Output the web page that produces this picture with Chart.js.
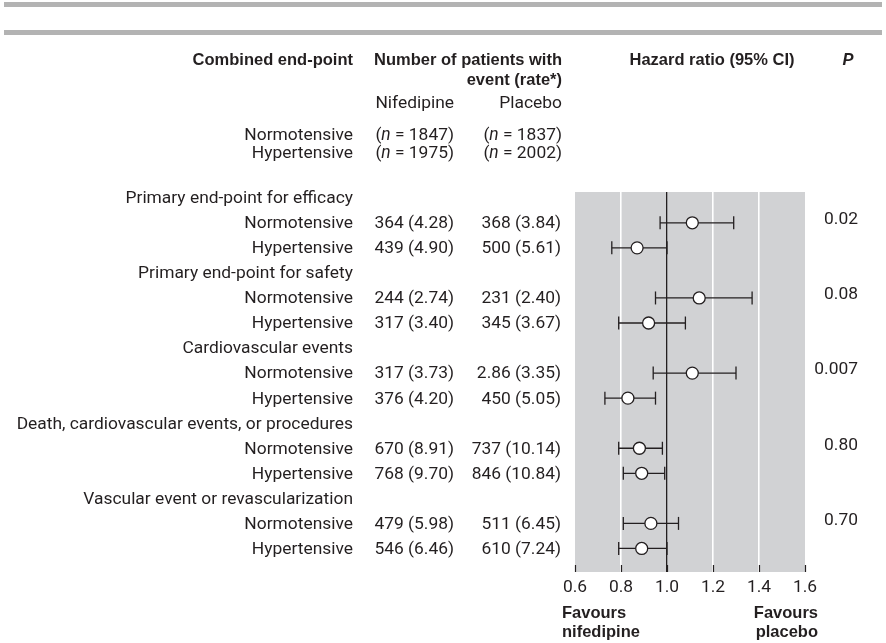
<!DOCTYPE html>
<html>
<head>
<meta charset="utf-8">
<script src="https://cdn.jsdelivr.net/npm/chart.js@4.4.1/dist/chart.umd.min.js"></script>
<style>
  html, body { margin: 0; padding: 0; background: #ffffff; }
  canvas { display: block; }
</style>
</head>
<body>
<canvas id="forest" width="886" height="643"></canvas>
<script>
// ---- table rows (index = position on the vertical scale, 0 at top) ----
const rowLabels = [
  'Primary end-point for efficacy', 'Normotensive', 'Hypertensive',
  'Primary end-point for safety', 'Normotensive', 'Hypertensive',
  'Cardiovascular events', 'Normotensive', 'Hypertensive',
  'Death, cardiovascular events, or procedures', 'Normotensive', 'Hypertensive',
  'Vascular event or revascularization', 'Normotensive', 'Hypertensive'
];
const nifedipineEvents = [null, '364 (4.28)', '439 (4.90)', null, '244 (2.74)', '317 (3.40)',
  null, '317 (3.73)', '376 (4.20)', null, '670 (8.91)', '768 (9.70)', null, '479 (5.98)', '546 (6.46)'];
const placeboEvents = [null, '368 (3.84)', '500 (5.61)', null, '231 (2.40)', '345 (3.67)',
  null, '2.86 (3.35)', '450 (5.05)', null, '737 (10.14)', '846 (10.84)', null, '511 (6.45)', '610 (7.24)'];

// ---- study groups ----
const groupNames = ['Normotensive', 'Hypertensive'];
const nNifedipine = [1847, 1975];
const nPlacebo = [1837, 2002];

// ---- hazard ratios with 95% CI, one per subgroup row ----
const hrRows    = [1, 2, 4, 5, 7, 8, 10, 11, 13, 14];
const hazard    = [1.11, 0.87, 1.14, 0.92, 1.11, 0.83, 0.88, 0.89, 0.93, 0.89];
const ciLower   = [0.97, 0.76, 0.95, 0.79, 0.94, 0.73, 0.79, 0.81, 0.81, 0.79];
const ciUpper   = [1.29, 1.00, 1.37, 1.08, 1.30, 0.95, 0.98, 0.99, 1.05, 1.00];

// ---- interaction P values (shown beside each end-point) ----
const pRows   = [1, 4, 7, 10, 13];
const pValues = ['0.02', '0.08', '0.007', '0.80', '0.70'];

// ---- x axis ticks ----
const xTicks = [0.6, 0.8, 1.0, 1.2, 1.4, 1.6];

const INK = '#231f20';
const PANEL = '#d1d2d4';
const BODY = '17.4px Roboto, "Liberation Sans", sans-serif';
const BODY_IT = 'italic 17.4px Roboto, "Liberation Sans", sans-serif';
const BOLD = 'bold 16.5px "Liberation Sans", Arial, sans-serif';
const BOLD_IT = 'italic bold 16.5px "Liberation Sans", Arial, sans-serif';

function text(ctx, s, x, y, font, align) {
  ctx.font = font;
  ctx.textAlign = align;
  ctx.fillText(s, x, y);
}

// "(n = 1847)" with an italic n, right-aligned at x
function sampleText(ctx, n, right, y) {
  const parts = [['(', BODY], ['n', BODY_IT], [' = ' + n + ')', BODY]];
  let total = 0;
  parts.forEach(p => { ctx.font = p[1]; total += ctx.measureText(p[0]).width; });
  let x = right - total;
  ctx.textAlign = 'left';
  parts.forEach(p => { ctx.font = p[1]; ctx.fillText(p[0], x, y); x += ctx.measureText(p[0]).width; });
}

const panelBackground = {
  id: 'panelBackground',
  beforeDraw(chart) {
    const { ctx, chartArea: a } = chart;
    ctx.save();
    ctx.fillStyle = PANEL;
    ctx.fillRect(a.left, a.top, a.right - a.left, a.bottom - a.top);
    ctx.restore();
  }
};

const tableText = {
  id: 'tableText',
  afterDraw(chart) {
    const { ctx, chartArea: a } = chart;
    const xs = chart.scales.x, ys = chart.scales.y;
    ctx.save();

    // inward tick marks along the bottom of the panel
    ctx.strokeStyle = INK;
    ctx.lineWidth = 1.2;
    xs.ticks.forEach(t => {
      const px = Math.round(xs.getPixelForValue(t.value)) + 0.5;
      ctx.beginPath();
      ctx.moveTo(px, a.bottom - 7);
      ctx.lineTo(px, a.bottom);
      ctx.stroke();
    });

    // double rule at the top
    ctx.fillStyle = '#b3b3b3';
    ctx.fillRect(4, 2, 878, 5);
    ctx.fillRect(4, 30, 878, 5);

    ctx.fillStyle = INK;
    ctx.textBaseline = 'middle';

    // column headings
    text(ctx, 'Combined end-point', 353, 60, BOLD, 'right');
    text(ctx, 'Number of patients with', 562, 60, BOLD, 'right');
    text(ctx, 'event (rate*)', 562, 80, BOLD, 'right');
    text(ctx, 'Hazard ratio (95% CI)', 712, 60, BOLD, 'center');
    text(ctx, 'P', 848, 60, BOLD_IT, 'center');
    text(ctx, 'Nifedipine', 454, 104, BODY, 'right');
    text(ctx, 'Placebo', 562, 104, BODY, 'right');

    // group sizes
    groupNames.forEach((g, i) => {
      const y = 136 + i * 18;
      text(ctx, g, 353, y, BODY, 'right');
      sampleText(ctx, nNifedipine[i], 454, y);
      sampleText(ctx, nPlacebo[i], 562, y);
    });

    // table body, aligned to the same rows as the markers
    rowLabels.forEach((lab, r) => {
      const y = ys.getPixelForValue(r) + 1;
      text(ctx, lab, 353, y, BODY, 'right');
      if (nifedipineEvents[r]) text(ctx, nifedipineEvents[r], 454, y, BODY, 'right');
      if (placeboEvents[r]) text(ctx, placeboEvents[r], 561, y, BODY, 'right');
    });

    // P values
    pRows.forEach((r, i) => {
      text(ctx, pValues[i], 858, ys.getPixelForValue(r) - 3, BODY, 'right');
    });

    // direction labels under the axis
    text(ctx, 'Favours', 562, 613, BOLD, 'left');
    text(ctx, 'nifedipine', 562, 632, BOLD, 'left');
    text(ctx, 'Favours', 818, 613, BOLD, 'right');
    text(ctx, 'placebo', 818, 632, BOLD, 'right');

    ctx.restore();
  }
};

// one line dataset per confidence interval, capped with vertical line markers
const ciSets = hrRows.map((r, i) => ({
  type: 'line',
  data: [{ x: ciLower[i], y: r }, { x: ciUpper[i], y: r }],
  borderColor: INK,
  borderWidth: 1.3,
  pointStyle: 'line',
  rotation: 90,
  pointRadius: 6.5,
  pointHoverRadius: 6.5,
  pointBorderColor: INK,
  pointBorderWidth: 1.3,
  fill: false,
  order: 2
}));

const hrSet = {
  type: 'scatter',
  data: hrRows.map((r, i) => ({ x: hazard[i], y: r })),
  pointStyle: 'circle',
  pointRadius: 6,
  pointHoverRadius: 6,
  backgroundColor: '#ffffff',
  borderColor: INK,
  borderWidth: 1.3,
  order: 1
};

new Chart(document.getElementById('forest'), {
  type: 'scatter',
  data: { datasets: [...ciSets, hrSet] },
  options: {
    responsive: false,
    animation: false,
    events: [],
    layout: { padding: { left: 575, right: 81, top: 192, bottom: 47 } },
    plugins: { legend: { display: false }, tooltip: { enabled: false } },
    scales: {
      x: {
        type: 'linear',
        min: 0.6,
        max: 1.6,
        afterBuildTicks: s => { s.ticks = xTicks.map(v => ({ value: v })); },
        afterFit: s => { s.height = 24; },
        border: { display: false },
        grid: {
          drawTicks: false,
          color: c => {
            const v = c.tick ? c.tick.value : 0;
            if (Math.abs(v - 1) < 1e-6) return INK;
            if (Math.abs(v - 0.6) < 1e-6 || Math.abs(v - 1.6) < 1e-6) return 'rgba(0,0,0,0)';
            return '#ffffff';
          },
          lineWidth: c => (c.tick && Math.abs(c.tick.value - 1) < 1e-6) ? 1.3 : 1.6
        },
        ticks: {
          autoSkip: false,
          maxRotation: 0,
          padding: 5,
          color: INK,
          font: { family: 'Roboto', size: 17.4 },
          callback: v => Number(v).toFixed(1)
        }
      },
      y: {
        type: 'linear',
        reverse: true,
        min: -0.23,
        max: 14.94,
        display: false
      }
    }
  },
  plugins: [panelBackground, tableText]
});
</script>
</body>
</html>
